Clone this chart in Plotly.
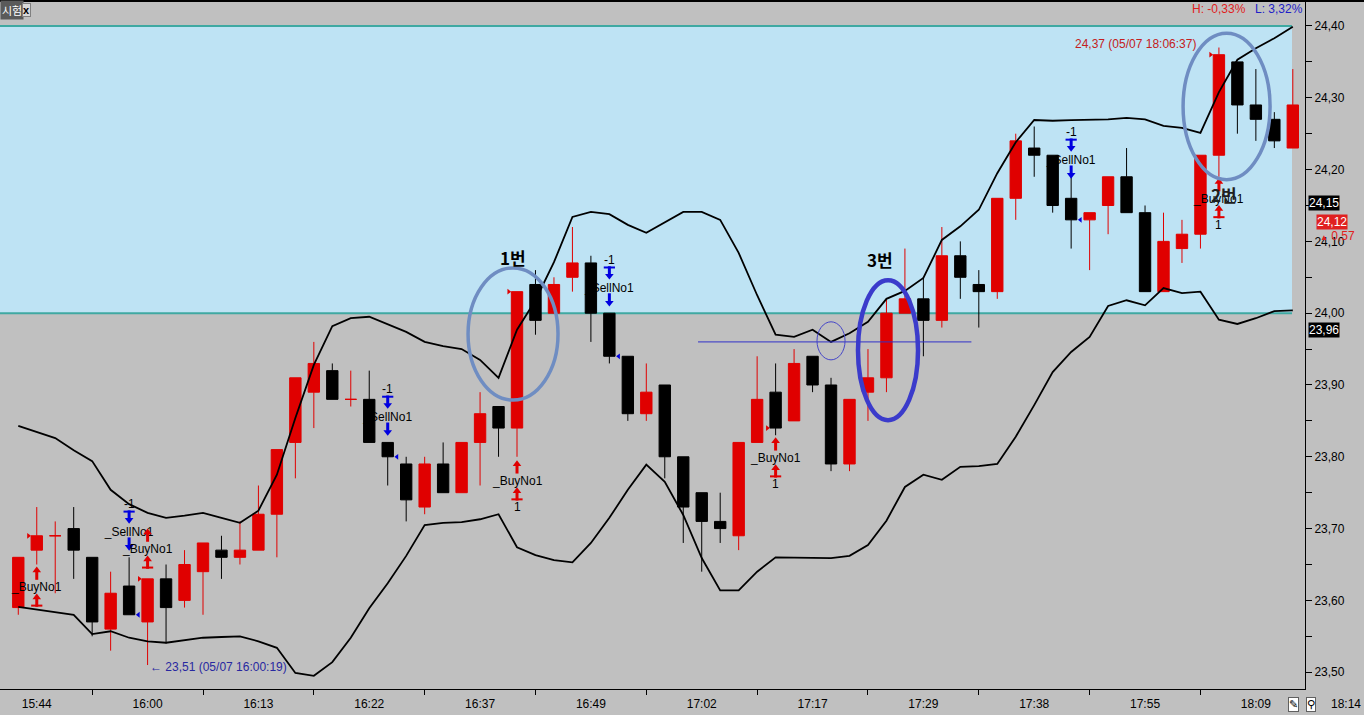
import plotly.graph_objects as go

# ---------------- data ----------------
time_labels = ["15:44", "16:00", "16:13", "16:22", "16:37", "16:49",
               "17:02", "17:17", "17:29", "17:38", "17:55", "18:09"]
time_label_idx = [1, 7, 13, 19, 25, 31, 37, 43, 49, 55, 61, 67]
y_ticks = [23.5, 23.6, 23.7, 23.8, 23.9, 24.0, 24.1, 24.2, 24.3, 24.4]

opens = [23.59, 23.67, 23.69, 23.70, 23.66, 23.56, 23.62, 23.57, 23.63, 23.60,
         23.64, 23.67, 23.66, 23.67, 23.72, 23.82, 23.89, 23.92, 23.88, 23.88,
         23.82, 23.79, 23.73, 23.79, 23.75, 23.82, 23.87, 23.84, 24.04, 24.00,
         24.05, 24.07, 24.00, 23.94, 23.86, 23.90, 23.80, 23.75, 23.71, 23.69,
         23.82, 23.89, 23.85, 23.94, 23.90, 23.79, 23.89, 23.91, 24.00, 24.02,
         23.99, 24.08, 24.04, 24.03, 24.16, 24.23, 24.22, 24.16, 24.13, 24.15,
         24.19, 24.14, 24.03, 24.09, 24.11, 24.22, 24.35, 24.29, 24.27, 24.23]
highs = [23.66, 23.73, 23.71, 23.73, 23.66, 23.64, 23.66, 23.63, 23.65, 23.67,
         23.68, 23.69, 23.71, 23.76, 23.81, 23.91, 23.96, 23.93, 23.92, 23.92,
         23.82, 23.80, 23.80, 23.82, 23.82, 23.89, 23.87, 24.03, 24.06, 24.05,
         24.12, 24.08, 24.00, 23.94, 23.93, 23.90, 23.80, 23.75, 23.75, 23.82,
         23.94, 23.93, 23.95, 23.94, 23.91, 23.88, 23.95, 24.02, 24.09, 24.05,
         24.12, 24.10, 24.06, 24.16, 24.25, 24.26, 24.22, 24.19, 24.14, 24.19,
         24.23, 24.15, 24.14, 24.13, 24.22, 24.37, 24.35, 24.34, 24.28, 24.34]
lows = [23.58, 23.65, 23.61, 23.63, 23.55, 23.53, 23.58, 23.51, 23.54, 23.59,
        23.58, 23.63, 23.65, 23.67, 23.66, 23.77, 23.84, 23.88, 23.87, 23.82,
        23.76, 23.71, 23.72, 23.75, 23.75, 23.76, 23.80, 23.80, 23.97, 24.00,
        24.03, 23.96, 23.93, 23.85, 23.85, 23.77, 23.68, 23.64, 23.68, 23.67,
        23.82, 23.83, 23.85, 23.89, 23.78, 23.78, 23.85, 23.89, 24.00, 23.94,
        23.98, 24.02, 23.98, 24.02, 24.13, 24.19, 24.14, 24.09, 24.06, 24.11,
        24.14, 24.03, 24.03, 24.07, 24.09, 24.19, 24.25, 24.24, 24.23, 24.23]
closes = [23.66, 23.69, 23.69, 23.67, 23.57, 23.61, 23.58, 23.63, 23.59, 23.65,
          23.68, 23.66, 23.67, 23.72, 23.81, 23.91, 23.93, 23.88, 23.88, 23.82,
          23.80, 23.74, 23.79, 23.75, 23.82, 23.86, 23.84, 24.03, 23.99, 24.04,
          24.07, 24.00, 23.94, 23.86, 23.89, 23.80, 23.73, 23.71, 23.70, 23.82,
          23.88, 23.84, 23.93, 23.90, 23.79, 23.88, 23.91, 24.00, 24.02, 23.99,
          24.08, 24.05, 24.03, 24.16, 24.24, 24.22, 24.15, 24.13, 24.14, 24.19,
          24.14, 24.03, 24.10, 24.11, 24.22, 24.36, 24.29, 24.27, 24.24, 24.29]

upper_band = [23.843, 23.835, 23.826, 23.809, 23.794, 23.754, 23.734, 23.722, 23.715, 23.718,
              23.722, 23.715, 23.708, 23.725, 23.775, 23.854, 23.928, 23.982, 23.993, 23.995,
              23.985, 23.974, 23.960, 23.954, 23.950, 23.935, 23.910, 23.977, 24.018, 24.071,
              24.134, 24.141, 24.138, 24.123, 24.112, 24.127, 24.141, 24.141, 24.130, 24.084,
              24.025, 23.970, 23.967, 23.977, 23.960, 23.972, 23.988, 24.020, 24.031, 24.049,
              24.102, 24.121, 24.144, 24.195, 24.238, 24.269, 24.268, 24.269, 24.269, 24.270,
              24.272, 24.270, 24.261, 24.258, 24.251, 24.308, 24.353, 24.369, 24.383, 24.399]
lower_band = [23.591, 23.587, 23.584, 23.580, 23.553, 23.557, 23.548, 23.543, 23.541, 23.545,
              23.548, 23.549, 23.550, 23.543, 23.534, 23.499, 23.495, 23.514, 23.548, 23.589,
              23.624, 23.662, 23.705, 23.708, 23.709, 23.713, 23.720, 23.674, 23.663, 23.656,
              23.653, 23.680, 23.715, 23.754, 23.789, 23.765, 23.719, 23.659, 23.614, 23.614,
              23.640, 23.660, 23.660, 23.659, 23.659, 23.662, 23.677, 23.711, 23.758, 23.775,
              23.768, 23.786, 23.787, 23.790, 23.828, 23.872, 23.918, 23.946, 23.967, 24.010,
              24.018, 24.011, 24.035, 24.028, 24.030, 23.991, 23.985, 23.993, 24.003, 24.004]

# trade signals: candle index and price level of the first arrow
buy_idx = [1, 7, 27, 41, 65]
buy_level = [23.638, 23.691, 23.786, 23.818, 24.179]
buy_count_shown = [False, False, True, True, True]
sell_idx = [6, 20, 32, 57]
sell_level = [23.716, 23.876, 24.056, 24.234]

zone_low, zone_high = 24.00, 24.40
hline_level = 23.96
high_price, high_idx = 24.37, 65
low_price, low_idx = 23.51, 7

# ---------------- styling ----------------
RED = "#E00000"
BLACK = "#000000"
BLUE = "#0000E0"
GRAY = "#C0C0C0"
FONT = "Liberation Sans"
KFONT = "Noto Sans CJK KR"
ARW = "DejaVu Sans"

# plot area geometry (pixels) for decorative paper-positioned items
PW, PT, PB = 1305, 2, 689
PH = PB - PT
YMIN, YMAX = 23.4766, 24.4334
PPP = PH / (YMAX - YMIN)   # pixels per price unit


def pxx(px):
    return px / PW


def pxy(py):
    return (PB - py) / PH


def dp(pix):
    """pixel offset -> price offset"""
    return pix / PPP


n = len(opens)
idx = list(range(n))
up = [i for i in idx if closes[i] >= opens[i]]
dn = [i for i in idx if closes[i] < opens[i]]

fig = go.Figure()


def candles(sel, color):
    return go.Candlestick(
        x=sel,
        open=[opens[i] for i in sel], high=[highs[i] for i in sel],
        low=[lows[i] for i in sel], close=[closes[i] for i in sel],
        increasing=dict(line=dict(color=color, width=1), fillcolor=color),
        decreasing=dict(line=dict(color=color, width=1), fillcolor=color),
        whiskerwidth=0, showlegend=False, hoverinfo="skip")


fig.add_trace(candles(up, RED))
fig.add_trace(candles(dn, BLACK))

fig.add_trace(go.Scatter(x=idx, y=upper_band, mode="lines",
                         line=dict(color="black", width=1.8), hoverinfo="skip"))
fig.add_trace(go.Scatter(x=idx, y=lower_band, mode="lines",
                         line=dict(color="black", width=1.8), hoverinfo="skip"))

# small entry / exit ticks
fig.add_trace(go.Scatter(x=[i - 0.45 for i in buy_idx], y=[closes[i] for i in buy_idx],
                         mode="markers", marker=dict(symbol="triangle-right", size=5, color=RED),
                         hoverinfo="skip"))
fig.add_trace(go.Scatter(x=[i + 0.5 for i in sell_idx], y=[closes[i] for i in sell_idx],
                         mode="markers", marker=dict(symbol="triangle-left", size=5, color=BLUE),
                         hoverinfo="skip"))


def arrows(xs, centers, direction, bar, color):
    """direction +1 = pointing up, -1 = pointing down"""
    d = direction
    head = "triangle-up" if d > 0 else "triangle-down"
    fig.add_trace(go.Scatter(x=xs, y=[c + d * dp(2.8) for c in centers], mode="markers",
                             marker=dict(symbol=head, size=7.5, color=color, line=dict(width=0)),
                             hoverinfo="skip"))
    fig.add_trace(go.Scatter(x=xs, y=[c - d * dp(2.5) for c in centers], mode="markers",
                             marker=dict(symbol="line-ns", size=6, line=dict(color=color, width=3)),
                             hoverinfo="skip"))
    if bar:
        fig.add_trace(go.Scatter(x=xs, y=[c - d * dp(5.5) for c in centers], mode="markers",
                                 marker=dict(symbol="line-ew", size=8, line=dict(color=color, width=2)),
                                 hoverinfo="skip"))


arrows(buy_idx, buy_level, +1, False, RED)
arrows(buy_idx, [lv - dp(27) for lv in buy_level], +1, True, RED)
arrows(sell_idx, sell_level, -1, True, BLUE)
arrows(sell_idx, [lv - dp(27) for lv in sell_level], -1, False, BLUE)

shapes = []
annotations = []

# blue zone
shapes.append(dict(type="rect", xref="paper", yref="y", x0=0, x1=pxx(1292), y0=zone_low, y1=zone_high,
                   fillcolor="#BEE3F4", line=dict(width=0), layer="below"))
for lv in (zone_low, zone_high):
    shapes.append(dict(type="line", xref="paper", yref="y", x0=0, x1=pxx(1292), y0=lv, y1=lv,
                       line=dict(color="#3FA9A2", width=2), layer="below"))

# sell texts (drawn beneath the candles, as in the reference)
for i, lv in zip(sell_idx, sell_level):
    yc = lv - dp(14)
    h = dp(7)
    shapes.append(dict(type="rect", xref="x", yref="y", x0=i - 1.6, x1=i + 1.6, y0=yc - h, y1=yc + h,
                       line=dict(width=1, color="rgba(0,0,0,0)"), fillcolor="rgba(0,0,0,0)",
                       layer="below",
                       label=dict(text="_SellNo1", textposition="middle center",
                                  font=dict(family=FONT, size=12, color="black"))))

# top border line
shapes.append(dict(type="line", xref="paper", yref="paper", x0=0, x1=1364 / PW, y0=pxy(1), y1=pxy(1),
                   line=dict(color="black", width=2)))

# blue horizontal level line and ellipses
shapes.append(dict(type="line", xref="x", yref="y", x0=36.8, x1=51.6, y0=hline_level, y1=hline_level,
                   line=dict(color="#3030C8", width=1)))
shapes.append(dict(type="circle", xref="x", yref="y", x0=24.35, x1=29.22, y0=23.879, y1=24.063,
                   line=dict(color="#6F8DC2", width=3.5)))
shapes.append(dict(type="circle", xref="x", yref="y", x0=45.46, x1=48.71, y0=23.851, y1=24.046,
                   line=dict(color="#3B3BCB", width=4.5)))
shapes.append(dict(type="circle", xref="x", yref="y", x0=63.06, x1=67.77, y0=24.186, y1=24.390,
                   line=dict(color="#6F8DC2", width=3.5)))
shapes.append(dict(type="circle", xref="x", yref="y", x0=43.24, x1=44.76, y0=23.935, y1=23.988,
                   line=dict(color="#4545C8", width=1)))


def ann(x, y, text, color="black", size=12, yshift=0, xshift=0, xanchor="center",
        family=FONT, xref="x", yref="y", **kw):
    d = dict(x=x, y=y, xref=xref, yref=yref, text=text, showarrow=False, xanchor=xanchor,
             yanchor="middle", yshift=yshift, xshift=xshift,
             font=dict(family=family, size=size, color=color))
    d.update(kw)
    annotations.append(d)


for i, lv, shown in zip(buy_idx, buy_level, buy_count_shown):
    ann(i, lv, "_BuyNo1", "black", 12, yshift=-14)
    if shown:
        ann(i, lv, "1", "black", 12, yshift=-40)

for i, lv in zip(sell_idx, sell_level):
    ann(i, lv, "-1", "black", 12, yshift=13)

# region labels
ann(26.78, 24.077, "<b>1번</b>", "black", 17, family=KFONT)
ann(46.65, 24.075, "<b>3번</b>", "black", 17, family=KFONT)
ann(65.28, 24.165, "<b>2번</b>", "#202020", 17, family=KFONT)

# high / low marks
ann(high_idx, high_price, "24,37 (05/07 18:06:37)", "#C42020", 12, xanchor="right", xshift=-21, yshift=4)
ann(low_idx, low_price, "<b>←</b> 23,51 (05/07 16:00:19)", "#2828A0", 12, xanchor="left", yshift=-2)

# header texts
ann(pxx(1190), pxy(9), "H: -0,33%", "#E02020", 12, xanchor="left", xref="paper", yref="paper")
ann(pxx(1253), pxy(9), "L: 3,32%", "#2020C8", 12, xanchor="left", xref="paper", yref="paper")
ann(pxx(0), pxy(10), "시험", "white", 11, xanchor="left", family=KFONT, xref="paper", yref="paper",
    bgcolor="#5A5A5A", borderpad=1)
ann(pxx(22), pxy(10), "<b>x</b>", "black", 11, xanchor="left", xref="paper", yref="paper",
    bgcolor="#D8D8D8", bordercolor="#808080", borderwidth=1, borderpad=0)

# right-axis value boxes
ann(pxx(1308), 24.15, "24,15", "white", 12, xanchor="left", xref="paper", yshift=2,
    bgcolor="black", borderpad=0)
ann(pxx(1316), 24.12, "24,12", "white", 12, xanchor="left", xref="paper", yshift=5,
    bgcolor="#E02020", borderpad=0)
ann(pxx(1318), 24.12, "<span style='font-size:8px'>▲</span> 0,57", "#E02020", 12,
    xanchor="left", xref="paper", yshift=-9, family=FONT)
ann(pxx(1308), hline_level, "23,96", "white", 12, xanchor="left", xref="paper", yshift=12,
    bgcolor="black", borderpad=0)

# bottom-right corner items
ann(pxx(1293), pxy(704), "✎", "black", 11, family=ARW, xref="paper", yref="paper",
    bgcolor="white", bordercolor="#606060", borderwidth=1, borderpad=0)
ann(pxx(1311), pxy(704), "⚲", "black", 11, family=ARW, xref="paper", yref="paper",
    bgcolor="white", bordercolor="#606060", borderwidth=1, borderpad=0)
ann(pxx(1346), pxy(704), "18:14", "black", 12, xref="paper", yref="paper")

minor_x = [i + 3 for i in time_label_idx if i + 3 < n]
minor_y = [round(v + 0.05, 2) for v in y_ticks[:-1]]

fig.update_layout(
    width=1364, height=715,
    margin=dict(l=0, r=1364 - PW, t=PT, b=715 - PB),
    paper_bgcolor=GRAY, plot_bgcolor=GRAY,
    showlegend=False, hovermode=False, separators=", ",
    boxgap=0.12,
    font=dict(family=FONT, size=12, color="black"),
    shapes=shapes, annotations=annotations,
)
fig.update_xaxes(
    range=[-0.99, 69.66], tickmode="array", tickvals=time_label_idx, ticktext=time_labels,
    ticks="", showline=True, linecolor="black", linewidth=1, showgrid=False, zeroline=False,
    rangeslider_visible=False, ticklabelstandoff=4, fixedrange=True,
    tickfont=dict(family=FONT, size=12, color="black"),
    minor=dict(tickmode="array", tickvals=minor_x, ticks="outside", ticklen=5,
               tickcolor="black", showgrid=False),
)
fig.update_yaxes(
    side="right", range=[YMIN, YMAX], tickmode="array", tickvals=y_ticks, tickformat=".2f",
    ticks="outside", ticklen=6, tickcolor="black", showline=True, linecolor="black", linewidth=1,
    showgrid=False, zeroline=False, fixedrange=True,
    tickfont=dict(family=FONT, size=12, color="black"),
    minor=dict(tickmode="array", tickvals=minor_y, ticks="outside", ticklen=6,
               tickcolor="black", showgrid=False),
)

fig.write_html("out.html", config={"displayModeBar": False},
               post_script="document.body.style.margin='0';")
